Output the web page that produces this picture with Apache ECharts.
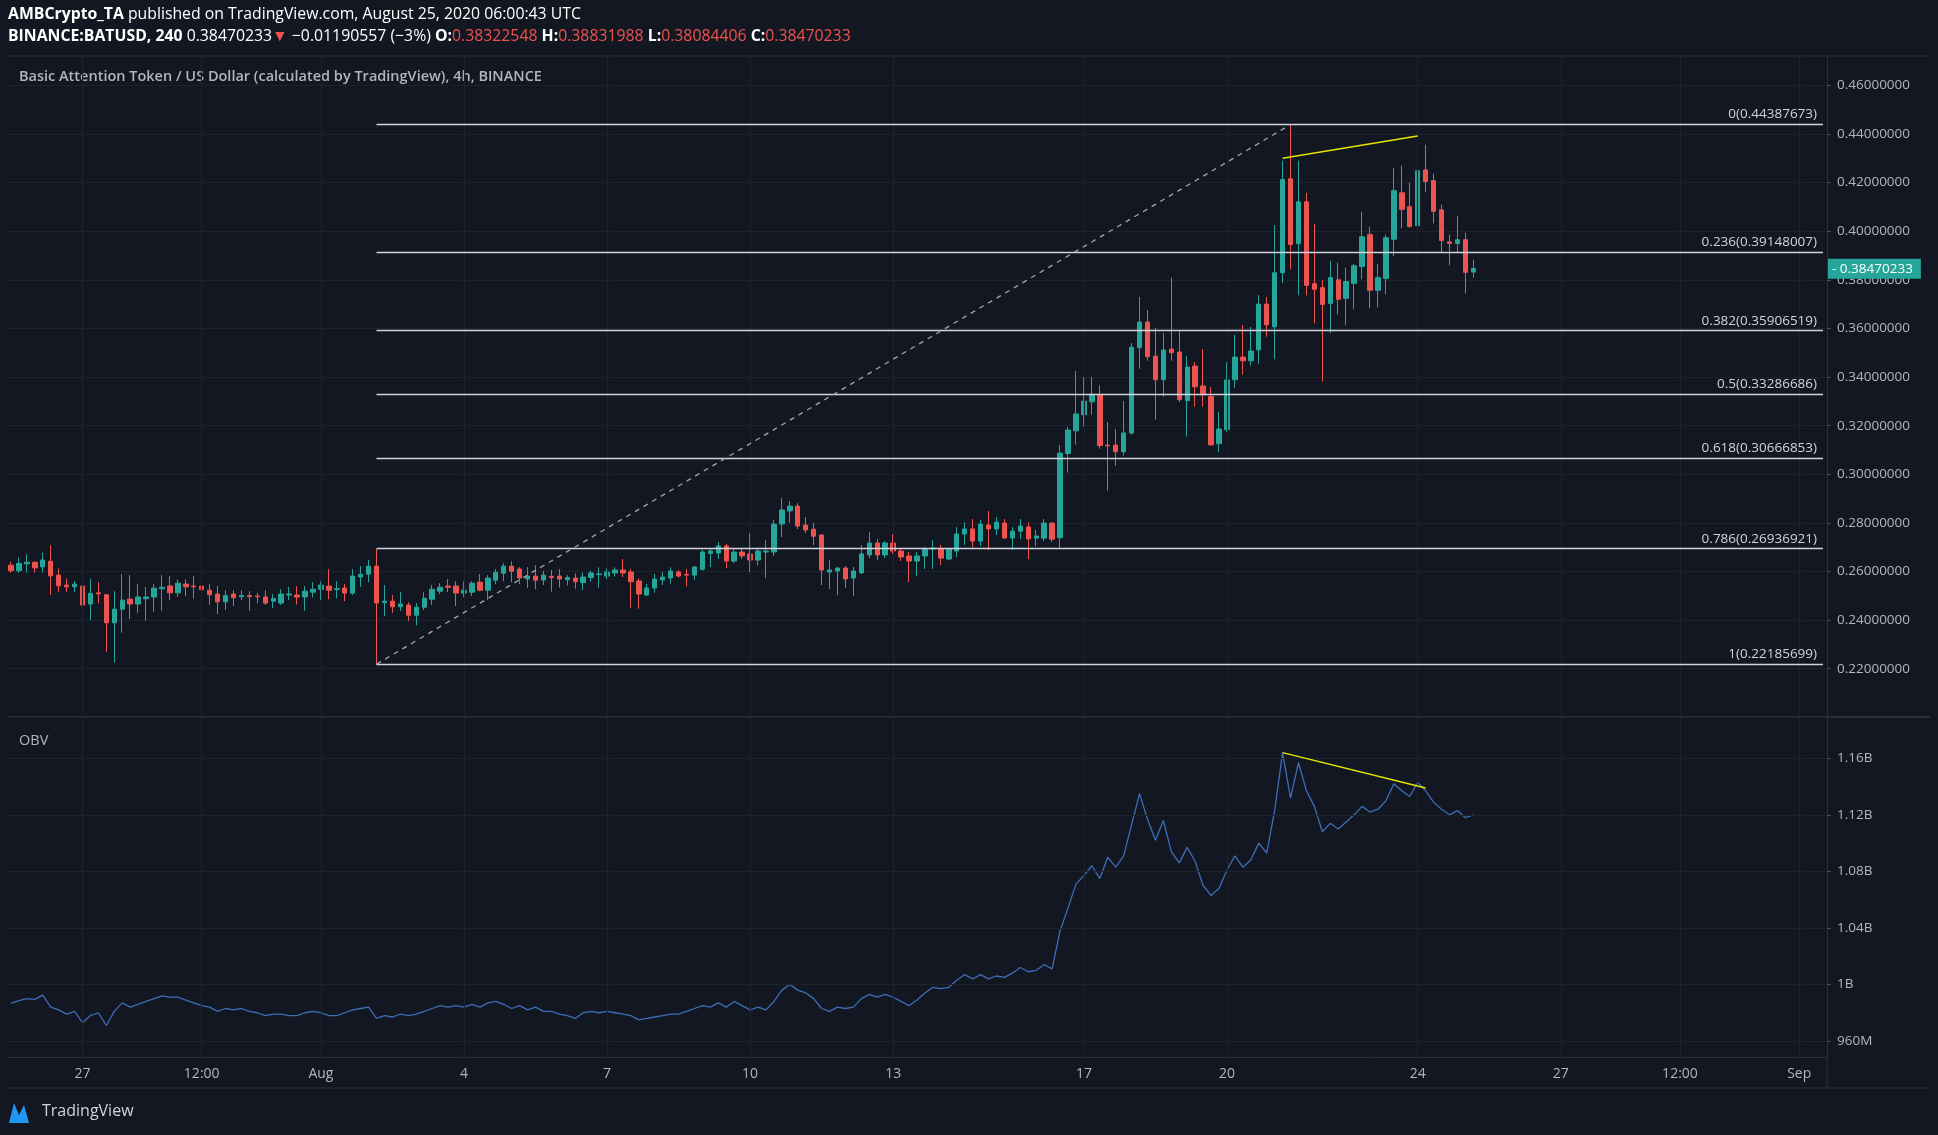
<!DOCTYPE html>
<html><head><meta charset="utf-8">
<script src="https://cdn.jsdelivr.net/npm/echarts@6/dist/echarts.min.js"></script>
<style>html,body{margin:0;padding:0;background:#131722;}#c{width:1938px;height:1135px;}</style>
</head><body><div id="c"></div>
<script>
// candles: [open, close, low, high], 4h bars from Jul 25 2020 12:00
const candles = [
[.2626,.2603,.2595,.2640],[.2603,.2633,.2595,.2658],[.2632,.2638,.2595,.2671],[.2638,.2615,.2595,.2641],
[.2619,.2647,.2595,.2678],[.2642,.2582,.2503,.2708],[.2585,.2541,.2516,.2612],[.2544,.2537,.2516,.2571],
[.2537,.2548,.2516,.2560],[.2540,.2462,.2379,.2601],[.2466,.2510,.2400,.2571],[.2512,.2508,.2469,.2556],
[.2504,.2389,.2270,.2507],[.2389,.2445,.2225,.2519],[.2445,.2482,.2348,.2589],[.2486,.2466,.2404,.2585],
[.2466,.2495,.2430,.2548],[.2488,.2495,.2397,.2536],[.2495,.2531,.2434,.2548],[.2529,.2535,.2438,.2585],
[.2540,.2512,.2482,.2581],[.2512,.2552,.2496,.2567],[.2548,.2537,.2499,.2567],[.2540,.2537,.2488,.2581],
[.2540,.2525,.2471,.2596],[.2523,.2504,.2463,.2547],[.2507,.2475,.2425,.2540],[.2475,.2501,.2441,.2523],
[.2507,.2492,.2458,.2523],[.2496,.2501,.2482,.2523],[.2501,.2496,.2438,.2519],[.2499,.2496,.2469,.2512],
[.2495,.2470,.2462,.2523],[.2478,.2489,.2449,.2507],[.2470,.2507,.2462,.2527],[.2503,.2507,.2482,.2536],
[.2503,.2495,.2464,.2540],[.2495,.2519,.2438,.2540],[.2515,.2527,.2493,.2556],[.2527,.2544,.2482,.2560],
[.2540,.2523,.2486,.2610],[.2526,.2529,.2490,.2560],[.2532,.2511,.2478,.2548],[.2511,.2581,.2503,.2610],
[.2577,.2589,.2536,.2622],[.2589,.2622,.2556,.2647],[.2622,.2470,.2215,.2693],[.2472,.2478,.2416,.2544],
[.2478,.2455,.2430,.2503],[.2455,.2466,.2438,.2515],[.2462,.2420,.2397,.2474],[.2420,.2453,.2379,.2470],
[.2453,.2490,.2441,.2515],[.2486,.2527,.2462,.2544],[.2519,.2535,.2507,.2552],[.2540,.2535,.2515,.2568],
[.2540,.2511,.2458,.2560],[.2511,.2523,.2494,.2560],[.2515,.2552,.2499,.2560],[.2556,.2523,.2519,.2589],
[.2523,.2573,.2482,.2585],[.2564,.2597,.2548,.2610],[.2593,.2622,.2560,.2634],[.2622,.2601,.2556,.2642],
[.2610,.2573,.2548,.2618],[.2569,.2581,.2532,.2618],[.2581,.2564,.2527,.2626],[.2565,.2585,.2544,.2603],
[.2580,.2575,.2517,.2606],[.2581,.2569,.2534,.2610],[.2566,.2575,.2542,.2585],[.2573,.2558,.2529,.2592],
[.2554,.2577,.2524,.2596],[.2575,.2594,.2558,.2603],[.2587,.2590,.2533,.2617],[.2581,.2598,.2569,.2612],
[.2594,.2606,.2579,.2617],[.2606,.2594,.2577,.2651],[.2598,.2558,.2451,.2610],[.2561,.2507,.2447,.2572],
[.2503,.2532,.2499,.2549],[.2532,.2569,.2513,.2590],[.2565,.2577,.2544,.2598],[.2573,.2602,.2550,.2617],
[.2598,.2581,.2575,.2606],[.2588,.2585,.2538,.2610],[.2585,.2618,.2565,.2623],[.2609,.2680,.2603,.2688],
[.2674,.2684,.2618,.2692],[.2676,.2705,.2651,.2721],[.2705,.2643,.2614,.2713],[.2643,.2680,.2635,.2697],
[.2680,.2664,.2651,.2697],[.2672,.2647,.2598,.2758],[.2647,.2684,.2624,.2697],[.2680,.2684,.2573,.2729],
[.2680,.2795,.2664,.2812],[.2795,.2853,.2742,.2902],[.2849,.2869,.2800,.2890],[.2869,.2787,.2775,.2881],
[.2791,.2771,.2758,.2824],[.2774,.2745,.2708,.2799],[.2750,.2606,.2544,.2754],[.2598,.2606,.2528,.2647],
[.2602,.2614,.2502,.2618],[.2614,.2569,.2532,.2622],[.2573,.2602,.2499,.2618],[.2594,.2672,.2590,.2709],
[.2668,.2717,.2655,.2762],[.2717,.2668,.2647,.2734],[.2668,.2717,.2655,.2725],[.2717,.2684,.2672,.2754],
[.2684,.2660,.2643,.2697],[.2664,.2643,.2557,.2680],[.2643,.2664,.2581,.2680],[.2664,.2692,.2610,.2701],
[.2692,.2696,.2610,.2729],[.2692,.2655,.2626,.2709],[.2651,.2692,.2647,.2696],[.2684,.2754,.2659,.2783],
[.2754,.2775,.2709,.2803],[.2775,.2725,.2700,.2816],[.2725,.2795,.2705,.2812],[.2791,.2775,.2688,.2849],
[.2775,.2803,.2750,.2824],[.2799,.2738,.2734,.2816],[.2738,.2766,.2688,.2783],[.2766,.2787,.2734,.2816],
[.2783,.2734,.2651,.2803],[.2737,.2746,.2704,.2771],[.2737,.2799,.2725,.2816],[.2799,.2733,.2721,.2803],
[.2739,.3087,.2693,.3120],[.3085,.3182,.3007,.3194],[.3179,.3248,.3122,.3425],[.3245,.3301,.3196,.3400],
[.3298,.3329,.3245,.3400],[.3326,.3118,.3105,.3366],[.3120,.3117,.2933,.3215],[.3120,.3093,.3035,.3186],
[.3093,.3170,.3077,.3301],[.3170,.3523,.3163,.3540],[.3521,.3626,.3434,.3729],[.3626,.3484,.3467,.3676],
[.3486,.3389,.3225,.3602],[.3389,.3511,.3319,.3581],[.3515,.3500,.3467,.3809],[.3503,.3307,.3297,.3589],
[.3303,.3441,.3155,.3486],[.3445,.3360,.3278,.3462],[.3363,.3327,.3278,.3515],[.3320,.3121,.3117,.3359],
[.3126,.3186,.3091,.3256],[.3184,.3388,.3175,.3462],[.3389,.3482,.3356,.3573],[.3482,.3467,.3410,.3614],
[.3467,.3507,.3447,.3606],[.3512,.3700,.3455,.3737],[.3700,.3615,.3566,.3729],[.3607,.3829,.3473,.4025],
[.3829,.4213,.3786,.4290],[.4216,.3945,.3843,.4441],[.3949,.4121,.3736,.4290],[.4121,.3777,.3736,.4158],
[.3784,.3761,.3621,.4031],[.3768,.3699,.3381,.3799],[.3703,.3809,.3581,.3879],[.3800,.3720,.3658,.3870],
[.3724,.3793,.3613,.3850],[.3786,.3858,.3679,.3866],[.3855,.3977,.3802,.4080],[.3986,.3757,.3683,.4019],
[.3757,.3809,.3687,.3866],[.3806,.3973,.3740,.3986],[.3967,.4167,.3897,.4261],[.4158,.4090,.4012,.4270],
[.4101,.4019,.4015,.4200],[.4023,.4249,.3938,.4378],[.4252,.4205,.4160,.4356],[.4208,.4082,.4032,.4237],
[.4088,.3962,.3913,.4109],[.3956,.3950,.3860,.3986],[.3950,.3965,.3913,.4064],[.3965,.3831,.3744,.3994],
[.38322548,.38470233,.38084406,.38831988]
];
// OBV in billions
const obv = [
.9866,.9885,.990,.9895,.9925,.984,.982,.979,.981,.973,.978,.980,.971,.981,.987,.984,.986,.988,.990,.992,
.991,.991,.989,.987,.985,.984,.981,.983,.982,.983,.981,.980,.978,.979,.979,.978,.978,.980,.981,.980,
.978,.978,.980,.982,.983,.984,.976,.978,.977,.979,.978,.979,.981,.983,.985,.984,.985,.984,.986,.984,
.987,.988,.986,.983,.985,.982,.984,.981,.981,.979,.978,.976,.980,.981,.980,.981,.980,.979,.978,.975,
.976,.977,.978,.979,.979,.981,.983,.985,.984,.987,.984,.988,.985,.982,.984,.982,.988,.996,1.000,.996,
.994,.990,.983,.981,.984,.983,.984,.990,.993,.991,.993,.991,.988,.985,.989,.994,.998,.997,.998,1.003,
1.007,1.004,1.007,1.004,1.006,1.005,1.008,1.012,1.009,1.010,1.014,1.011,1.038,1.054,1.071,1.077,1.084,1.075,1.090,1.083,
1.091,1.113,1.135,1.117,1.102,1.116,1.094,1.086,1.097,1.087,1.070,1.063,1.068,1.081,1.091,1.083,1.088,1.100,1.093,1.123,
1.164,1.132,1.157,1.137,1.126,1.108,1.114,1.110,1.115,1.120,1.126,1.122,1.124,1.130,1.142,1.137,1.133,1.143,1.137,1.129,
1.124,1.120,1.123,1.118,1.120
];
const fibLevels = [0.44387673,0.39148007,0.35906519,0.33286686,0.30666853,0.26936921,0.22185699];
const fibNames = ['0','0.236','0.382','0.5','0.618','0.786','1'];
const tickIdx = [9,24,39,57,75,93,111,135,153,177,195,210,225];
const tickText = ['27','12:00','Aug','4','7','10','13','17','20','24','27','12:00','Sep'];
const obvTicks = [0.96,1.00,1.04,1.08,1.12,1.16];
const obvTickText = ['960M','1B','1.04B','1.08B','1.12B','1.16B'];
const fibStartIdx = 46, fibEndIdx = 228, peakIdx = 161;
const priceDiv = [[160,0.4300],[177,0.4392]];
const obvDiv = [[160,1.164],[178,1.139]];
const lastPrice = 0.38470233;

const N = 229;
const cats = Array.from({length:N},(_,i)=>String(i));
const tickMap = {}; tickIdx.forEach((k,j)=>tickMap[k]=tickText[j]);
const UP='#26a69a', DN='#ef5350', TXT='#b2b5be', GRID='#1e222d', FONT='Open Sans';

const chart = echarts.init(document.getElementById('c'));
const vlines = tickIdx.map(i=>({xAxis:i}));
const fibLines = fibLevels.map((v,j)=>[
  {coord:[fibStartIdx, v], label:{formatter: fibNames[j]+'('+v.toFixed(8)+')'}},
  {coord:[fibEndIdx, v]}
]);
chart.setOption({
  backgroundColor:'#131722',
  animation:false,
  textStyle:{fontFamily:FONT},
  grid:[
    {left:7,right:111,top:56,bottom:1135-717.3},
    {left:7,right:111,top:717.3,bottom:1135-1057}
  ],
  xAxis:[
    {type:'category',data:cats,gridIndex:0,boundaryGap:true,axisLine:{show:false},axisTick:{show:false},axisLabel:{show:false},splitLine:{show:false}},
    {type:'category',data:cats,gridIndex:1,boundaryGap:true,axisLine:{show:true,lineStyle:{color:'#2a2e39'}},axisTick:{show:false},
     axisLabel:{interval:0,color:TXT,fontSize:14,margin:10,formatter:(v,i)=>tickMap[i]||''},splitLine:{show:false}}
  ],
  yAxis:[
    {type:'value',gridIndex:0,position:'right',min:0.2,max:0.4721,interval:0.02,
     axisLine:{show:true,lineStyle:{color:'#2a2e39'}},axisTick:{show:true,length:4,lineStyle:{color:'#4a4e59'}},
     axisLabel:{color:TXT,fontSize:13.5,margin:10,showMinLabel:false,showMaxLabel:false,formatter:v=>v.toFixed(8)},
     splitLine:{show:true,lineStyle:{color:GRID,width:1.2}}},
    {type:'value',gridIndex:1,position:'right',min:0.9487,max:1.189,
     axisLine:{show:true,lineStyle:{color:'#2a2e39'}},
     axisTick:{show:true,length:4,customValues:obvTicks,lineStyle:{color:'#4a4e59'}},
     axisLabel:{color:TXT,fontSize:13.5,margin:10,customValues:obvTicks,formatter:v=>obvTickText[obvTicks.findIndex(t=>Math.abs(t-v)<1e-6)]},
     splitLine:{show:false}}
  ],
  series:[
    {type:'candlestick',xAxisIndex:0,yAxisIndex:0,data:candles,barWidth:'62%',
     itemStyle:{color:UP,color0:DN,borderColor:UP,borderColor0:DN,borderWidth:1},
     markLine:{silent:true,symbol:'none',animation:false,data:[
       ...vlines.map(v=>({...v,lineStyle:{color:GRID,width:1.2,type:'solid'},label:{show:false}})),
       ...fibLines.map(p=>[{...p[0],lineStyle:{color:'#d1d4dc',width:1.3,type:'solid'},
          label:{show:true,position:'insideEndTop',color:'#d1d4dc',fontSize:13.5,distance:[6,3],formatter:p[0].label.formatter}},p[1]]),
       [{coord:[fibStartIdx,fibLevels[6]],lineStyle:{color:'#a3a6af',width:1.3,type:[5,5]},label:{show:false}},{coord:[peakIdx,fibLevels[0]]}],
       [{coord:priceDiv[0],lineStyle:{color:'#e6e600',width:1.5,type:'solid'},label:{show:false}},{coord:priceDiv[1]}],
       {yAxis:lastPrice,lineStyle:{color:'rgba(0,0,0,0)',width:0},
        label:{show:true,position:'end',distance:1,offset:[0,-11],formatter:'- '+lastPrice.toFixed(8),
         color:'#fff',backgroundColor:UP,fontSize:13.5,padding:[3,8,3,4]}}
     ]}},
    {type:'line',xAxisIndex:1,yAxisIndex:1,data:obv,symbol:'none',lineStyle:{color:'#3d6db5',width:1.3},
     markLine:{silent:true,symbol:'none',animation:false,data:[
       ...obvTicks.map(t=>({yAxis:t,lineStyle:{color:GRID,width:1.2,type:'solid'},label:{show:false}})),
       ...vlines.map(v=>({...v,lineStyle:{color:GRID,width:1.2,type:'solid'},label:{show:false}})),
       [{coord:obvDiv[0],lineStyle:{color:'#e6e600',width:1.5,type:'solid'},label:{show:false}},{coord:obvDiv[1]}]
     ]}}
  ],
  graphic:[
    {type:'line',shape:{x1:7,y1:56,x2:1930,y2:56},style:{stroke:'#2a2e39',lineWidth:1.2}},
    {type:'line',shape:{x1:7,y1:717,x2:1930,y2:717},style:{stroke:'#2a2e39',lineWidth:2}},
    {type:'line',shape:{x1:7,y1:1088,x2:1930,y2:1088},style:{stroke:'#2a2e39',lineWidth:1.2}},
    {type:'line',shape:{x1:1827,y1:1057,x2:1827,y2:1088},style:{stroke:'#2a2e39',lineWidth:1.2}},
    {type:'text',left:8,top:6,style:{rich:{b:{fontWeight:'bold',fill:'#fff',fontSize:15.8,fontFamily:FONT},n:{fill:'#fff',fontSize:15.8,fontFamily:FONT}},
      text:'{b|AMBCrypto_TA}{n| published on TradingView.com, August 25, 2020 06:00:43 UTC}'}},
    {type:'text',left:8,top:28,style:{rich:{b:{fontWeight:'bold',fill:'#fff',fontSize:15.8,fontFamily:FONT},n:{fill:'#fff',fontSize:15.8,fontFamily:FONT},r:{fill:'#ef5350',fontSize:15.8,fontFamily:FONT}},
      text:'{b|BINANCE:BATUSD, 240}{n| 0.38470233}{r|▼}{n| −0.01190557 (−3%) }{b|O:}{r|0.38322548 }{b|H:}{r|0.38831988 }{b|L:}{r|0.38084406 }{b|C:}{r|0.38470233}'}},
    {type:'text',left:19,top:69,style:{text:'Basic Attention Token / US Dollar (calculated by TradingView), 4h, BINANCE',fill:TXT,fontSize:14.5,fontWeight:600,fontFamily:FONT}},
    {type:'text',left:19,top:733,style:{text:'OBV',fill:TXT,fontSize:14.5,fontFamily:FONT}},
    {type:'polygon',shape:{points:[[9,1123],[14,1103],[19,1115],[24,1105],[29,1123]]},style:{fill:'#2196f3'}},
    {type:'text',left:42,top:1103,style:{text:'TradingView',fill:'#d1d4dc',fontSize:16,fontFamily:FONT}}
  ]
});
</script></body></html>
